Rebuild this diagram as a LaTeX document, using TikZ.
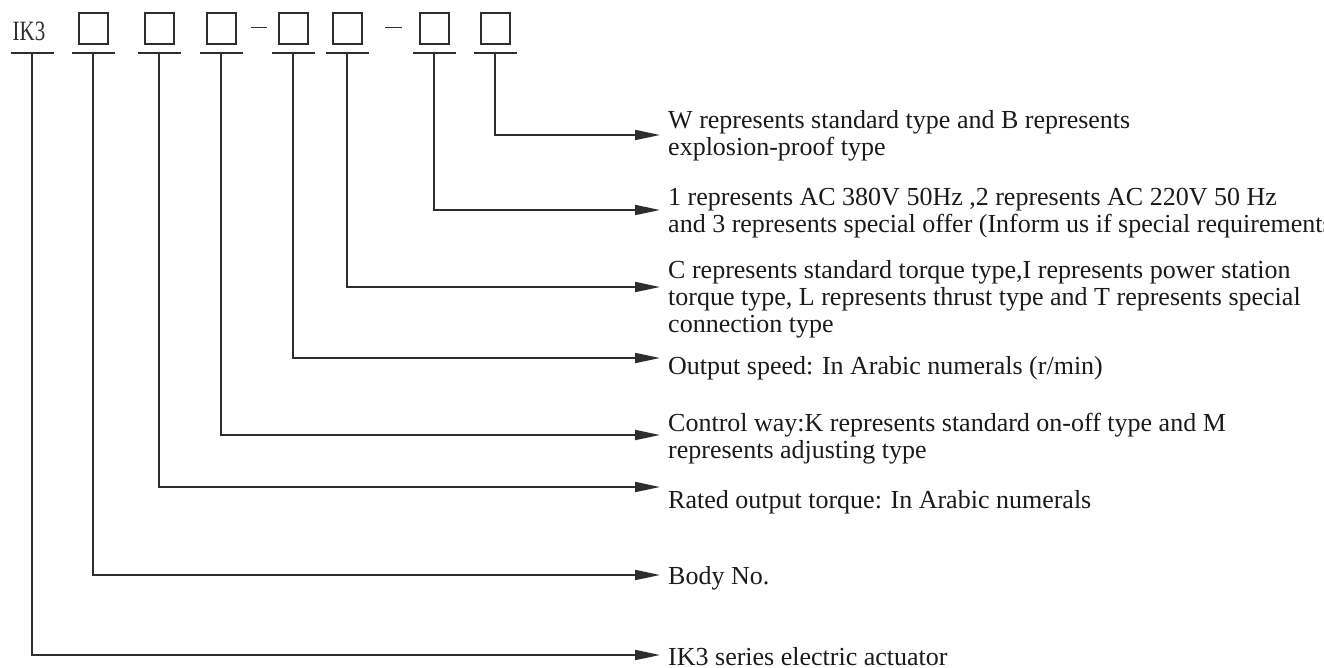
\documentclass[tikz,border=0pt]{standalone}
\usepackage{fontspec}
\setmainfont{Liberation Serif}
\usetikzlibrary{arrows.meta}
\definecolor{linec}{HTML}{2E2E2E}
\definecolor{txtc}{HTML}{1A1A1A}
\begin{document}
\begin{tikzpicture}[x=1pt,y=-1pt,
  lbox/.style={draw=linec, line width=2pt, minimum width=29pt, minimum height=31pt, inner sep=0pt},
  tickline/.style={draw=linec, line width=2pt},
  dashline/.style={draw=linec, line width=1.8pt},
  conn/.style={draw=linec, line width=1.8pt, -{Triangle[length=25pt,width=10pt]}},
  desc/.style={anchor=base west, inner sep=0pt, text=txtc, font=\fontsize{26}{27}\selectfont},
  ttl/.style={inner sep=0pt, text=linec, font=\fontsize{28}{28}\selectfont}]
\useasboundingbox (0,0) rectangle (1324,667);
\clip (0,0) rectangle (1324,667);
% heading
\node[ttl] (ik) at (29,31) {\scalebox{0.75}[1]{IK3}};
\node[lbox] (b1) at (93,28) {};
\node[lbox] (b2) at (159,28) {};
\node[lbox] (b3) at (221,28) {};
\node[lbox] (b4) at (293,28) {};
\node[lbox] (b5) at (347,28) {};
\node[lbox] (b6) at (434,28) {};
\node[lbox] (b7) at (495,28) {};
\coordinate (m1) at (251,27.5); \coordinate (m2) at (267,27.5);
\coordinate (m3) at (385,27.5); \coordinate (m4) at (402,27.5);
\draw[dashline] (m1) -- (m2);
\draw[dashline] (m3) -- (m4);
% ticks
\foreach \n/\x in {0/32,1/93,2/159,3/221,4/293,5/347,6/434,7/495}{
  \coordinate (t\n) at (\x,53);
  \draw[tickline] ([xshift=-21.5pt]t\n) -- ([xshift=21.5pt]t\n);
}
% arrow tips
\coordinate (a7) at (660,135);
\coordinate (a6) at (660,210);
\coordinate (a5) at (660,287);
\coordinate (a4) at (660,358);
\coordinate (a3) at (660,435);
\coordinate (a2) at (660,487);
\coordinate (a1) at (660,575);
\coordinate (a0) at (660,655);
\foreach \n in {0,...,7}{ \draw[conn] (t\n) |- (a\n); }
% descriptions
\node[desc] (d7) at (668,128) {\vtop{\hbox{W represents standard type and B represents}\hbox{explosion-proof type}}};
\node[desc] (d6) at (668,205) {\vtop{\hbox{1 represents AC 380V 50Hz ,2 represents AC 220V 50 Hz}\hbox{and 3 represents special offer (Inform us if special requirements)}}};
\node[desc] (d5) at (668,278) {\vtop{\hbox{C represents standard torque type,I represents power station}\hbox{torque type, L represents thrust type and T represents special}\hbox{connection type}}};
\node[desc] (d4) at (668,374) {Output speed: In Arabic numerals (r/min)};
\node[desc] (d3) at (668,431) {\vtop{\hbox{Control way:K represents standard on-off type and M}\hbox{represents adjusting type}}};
\node[desc] (d2) at (668,508) {Rated output torque: In Arabic numerals};
\node[desc] (d1) at (668,584) {Body No.};
\node[desc] (d0) at (668,665) {IK3 series electric actuator};
\end{tikzpicture}
\end{document}
